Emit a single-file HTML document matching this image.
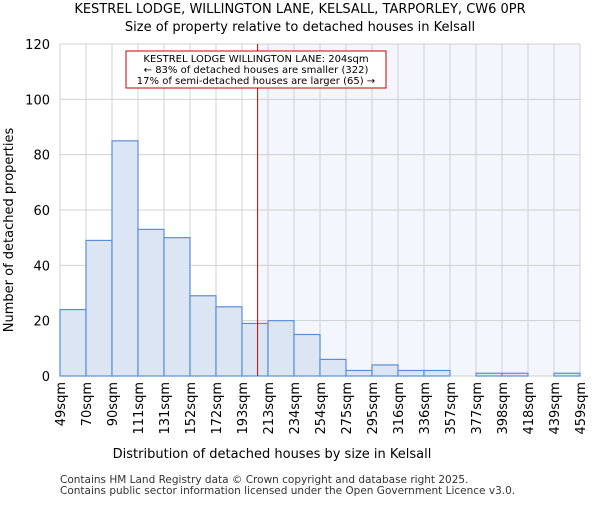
<!DOCTYPE html>
<html><head><meta charset="utf-8"><style>
body{margin:0;background:#fff;font-family:"Liberation Sans","DejaVu Sans",sans-serif}
</style></head><body>
<svg id="chart" width="600" height="500" xmlns="http://www.w3.org/2000/svg" font-family="DejaVu Sans, Liberation Sans, sans-serif">
<text x="300" y="13" text-anchor="middle" font-size="13">KESTREL LODGE, WILLINGTON LANE, KELSALL, TARPORLEY, CW6 0PR</text>
<text x="300" y="31" text-anchor="middle" font-size="13">Size of property relative to detached houses in Kelsall</text>
<g id="plot"></g>
<text x="272" y="458" text-anchor="middle" font-size="13">Distribution of detached houses by size in Kelsall</text>
<text transform="translate(13,230) rotate(-90)" text-anchor="middle" font-size="13">Number of detached properties</text>
<text x="60" y="483" font-size="10.5" fill="#333">Contains HM Land Registry data © Crown copyright and database right 2025.</text>
<text x="60" y="494" font-size="10.5" fill="#333">Contains public sector information licensed under the Open Government Licence v3.0.</text>
</svg>
<script>
const binLabels=["49sqm","70sqm","90sqm","111sqm","131sqm","152sqm","172sqm","193sqm","213sqm","234sqm","254sqm","275sqm","295sqm","316sqm","336sqm","357sqm","377sqm","398sqm","418sqm","439sqm","459sqm"];
const counts=[24,49,85,53,50,29,25,19,20,15,6,2,4,2,2,0,1,1,0,1];
const yTicks=[0,20,40,60,80,100,120];
const markerBin=7.6;
const NS="http://www.w3.org/2000/svg";
const L=60,R=580,T=44,B=376,yMax=120;
const bw=(R-L)/counts.length;
const x=i=>L+i*bw;
const y=v=>B-(v/yMax)*(B-T);
const g=document.getElementById('plot');
function mk(t,a){const e=document.createElementNS(NS,t);for(const k in a)e.setAttribute(k,a[k]);g.appendChild(e);return e;}
const mx=x(markerBin);
let e=mk('rect',{x:mx,y:T,width:R-mx,height:B-T,fill:'#f3f6fd'});


for(let i=0;i<=counts.length;i++){e=mk('line',{x1:x(i),x2:x(i),y1:T,y2:B,stroke:'#d0d0d0','stroke-width':1});

}
yTicks.forEach(t=>{e=mk('line',{x1:L,x2:R,y1:y(t),y2:y(t),stroke:'#d0d0d0','stroke-width':1});


e=mk('text',{x:L-10,y:y(t)+5,'text-anchor':'end','font-size':13});e.textContent=t;

});
counts.forEach((c,i)=>{if(c<=0)return;e=mk('rect',{x:x(i),y:y(c),width:bw,height:B-y(c),fill:'#dce5f4',stroke:'#5a8fd8','stroke-width':1.2});

});
binLabels.forEach((l,i)=>{e=mk('text',{transform:`translate(${x(i)+5},382) rotate(-90)`,'text-anchor':'end','font-size':13});e.textContent=l;

});
e=mk('line',{x1:mx,x2:mx,y1:T,y2:B,stroke:'#cc0000','stroke-width':1});


e=mk('rect',{x:126,y:51,width:260,height:37,fill:'#fff',stroke:'#cc0000','stroke-width':1});


["KESTREL LODGE WILLINGTON LANE: 204sqm","← 83% of detached houses are smaller (322)","17% of semi-detached houses are larger (65) →"].forEach((s,i)=>{e=mk('text',{x:256,y:62+i*11,'text-anchor':'middle','font-size':10});e.textContent=s;

});
</script>
</body></html>
